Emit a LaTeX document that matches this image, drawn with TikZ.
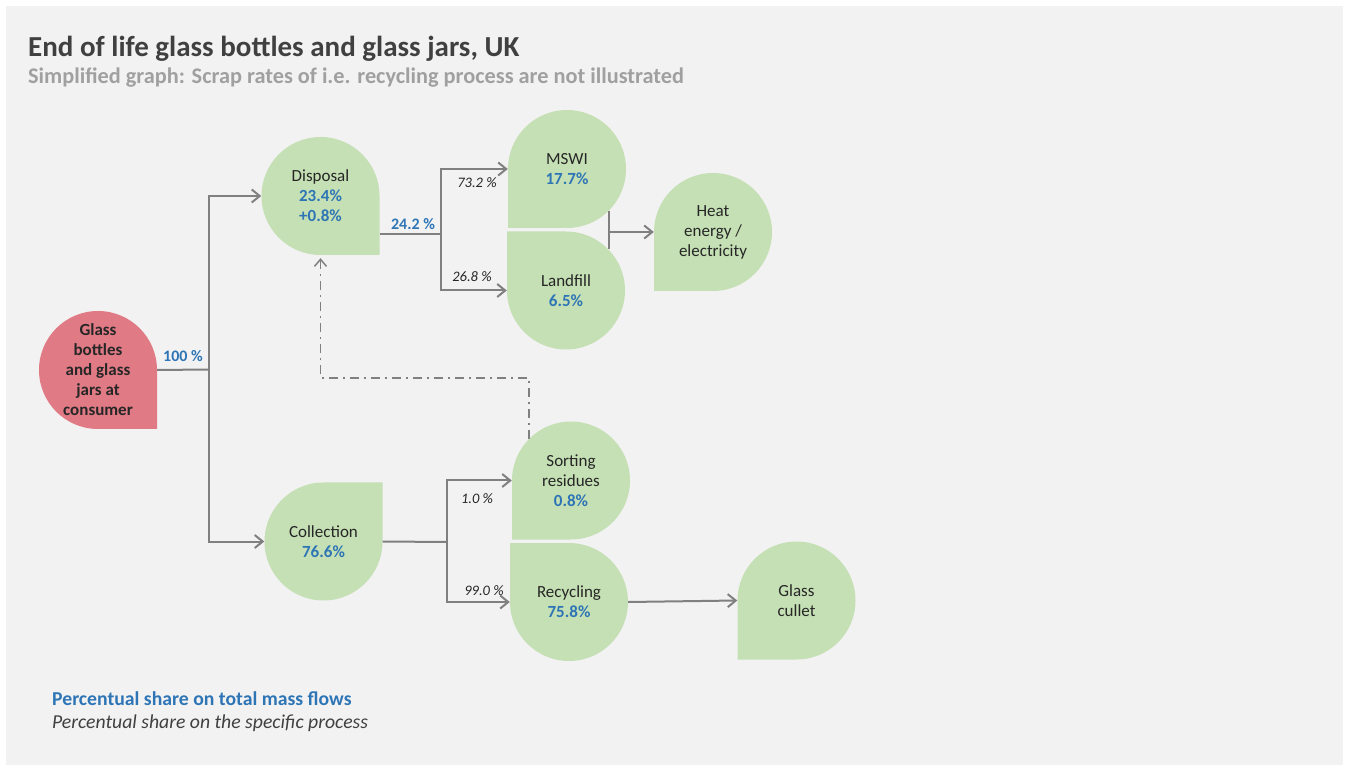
\documentclass[tikz,border=0pt]{standalone}
\usepackage{fontspec}
\setmainfont{Carlito}
\usetikzlibrary{arrows.meta}
\definecolor{bg}{HTML}{F2F2F2}
\definecolor{leaf}{HTML}{C5E0B4}
\definecolor{rose}{HTML}{E07A84}
\definecolor{pblue}{HTML}{2E75B6}
\definecolor{lgray}{HTML}{808080}
\definecolor{ttl}{HTML}{404040}
\definecolor{subgray}{HTML}{A0A0A0}
\definecolor{ink}{HTML}{262626}
\newcommand\dropR{59}
\newcommand\drop[6]{%
  \pgfmathsetmacro\da{#4}%
  \pgfmathsetmacro\db{#4+90}%
  \pgfmathsetmacro\dc{#4+180}%
  \pgfmathsetmacro\dd{#4+360}%
  \fill[#5] (#2,769-#3) ++(\da:\dropR) -- ++(\db:\dropR) -- ++(\dc:\dropR)
     arc[start angle=\db, end angle=\dd, radius=\dropR] -- cycle;
  \node[dropnode] (#1) at (#2,769-#3) {#6};
}
\newcommand\bv[1]{\textcolor{pblue}{\textbf{#1}}}
\begin{document}
\begin{tikzpicture}[x=1pt,y=1pt,
  dropnode/.style={circle, minimum size=118pt, inner sep=0pt, align=center,
    font=\fontsize{17}{20}\selectfont, text=ink},
  conn/.style={draw=lgray, line width=2pt},
  flow/.style={conn, -{Straight Barb[length=8pt,width=13pt]}},
  dd/.style={draw=lgray, line width=1.5pt, dash pattern=on 9pt off 5pt on 2pt off 5pt,
    -{Straight Barb[length=7pt,width=12pt]}},
  blab/.style={font=\fontsize{16}{18}\selectfont\bfseries, text=pblue, inner sep=0pt},
  ilab/.style={font=\fontsize{14.5}{16}\selectfont\itshape, text=ink, inner sep=0pt}]
\useasboundingbox (0,0) rectangle (1346,769);
\fill[white] (0,0) rectangle (1346,769);
\fill[bg] (6,4) rectangle (1343,763);
% titles
\node[anchor=base west, inner sep=0pt, font=\fontsize{29}{32}\selectfont\bfseries, text=ttl] (title) at (28,769-57) {End of life glass bottles and glass jars, UK};
\node[anchor=base west, inner sep=0pt, font=\fontsize{22.3}{26}\selectfont\bfseries, text=subgray] (subtitle) at (28,769-84) {Simplified graph: Scrap rates of i.e. recycling process are not illustrated};
% nodes
\drop{glass}{98}{370}{270}{rose}{\textbf{Glass}\\\textbf{bottles}\\\textbf{and glass}\\\textbf{jars at}\\\textbf{consumer}}
\drop{disp}{320.5}{196}{270}{leaf}{Disposal\\\bv{23.4\%}\\\bv{+0.8\%}}
\drop{mswi}{567}{169}{180}{leaf}{MSWI\\\bv{17.7\%}}
\drop{land}{566}{290.5}{90}{leaf}{Landfill\\\bv{6.5\%}}
\drop{heat}{713}{232}{180}{leaf}{Heat\\energy /\\electricity}
\drop{coll}{323.5}{541.5}{0}{leaf}{Collection\\\bv{76.6\%}}
\drop{sort}{571}{480.5}{180}{leaf}{Sorting\\residues\\\bv{0.8\%}}
\drop{rec}{569}{602}{90}{leaf}{Recycling\\\bv{75.8\%}}
\drop{cul}{796.5}{600.5}{180}{leaf}{Glass\\cullet}
% connectors
\coordinate (j1) at (209,769-369.5);
\draw[conn] (glass.east) -- (j1);
\draw[flow] (j1) |- (disp.west);
\draw[flow] (j1) |- (coll.west);
\node[blab] (l100) at (183,769-356) {100 \%};
\coordinate (dout) at ([yshift=-38pt]disp.east);
\coordinate (j2) at (441,769-234);
\draw[conn] (dout) -- (j2);
\draw[flow] (j2) |- (mswi.west);
\draw[flow] (j2) |- (land.west);
\node[blab] (l242) at (413,769-224) {24.2 \%};
\node[ilab] (l732) at (477,769-183) {73.2 \%};
\node[ilab] (l268) at (472,769-277) {26.8 \%};
\draw[conn] (mswi.-45) -- (mswi.-45 |- land.45);
\draw[flow] (mswi.-45 |- heat.west) -- (heat.west);
\coordinate (j4) at (447,769-542);
\draw[conn] (coll.east) -- (j4);
\draw[flow] (j4) |- (sort.west);
\draw[flow] (j4) |- (rec.west);
\node[ilab] (l10) at (477,769-499) {1.0 \%};
\node[ilab] (l990) at (484,769-591) {99.0 \%};
\draw[flow] (rec.east) -- (cul.west);
\coordinate (k) at (320.5,769-378);
\draw[dd, shorten >=3pt] (sort.135) |- (k) -- (disp.south);
% legend
\node[anchor=base west, inner sep=0pt, font=\fontsize{19.7}{22}\selectfont\bfseries, text=pblue] (leg1) at (52,769-705) {Percentual share on total mass flows};
\node[anchor=base west, inner sep=0pt, font=\fontsize{19.7}{22}\selectfont\itshape, text=ttl] (leg2) at (52,769-728) {Percentual share on the specific process};
\end{tikzpicture}
\end{document}
